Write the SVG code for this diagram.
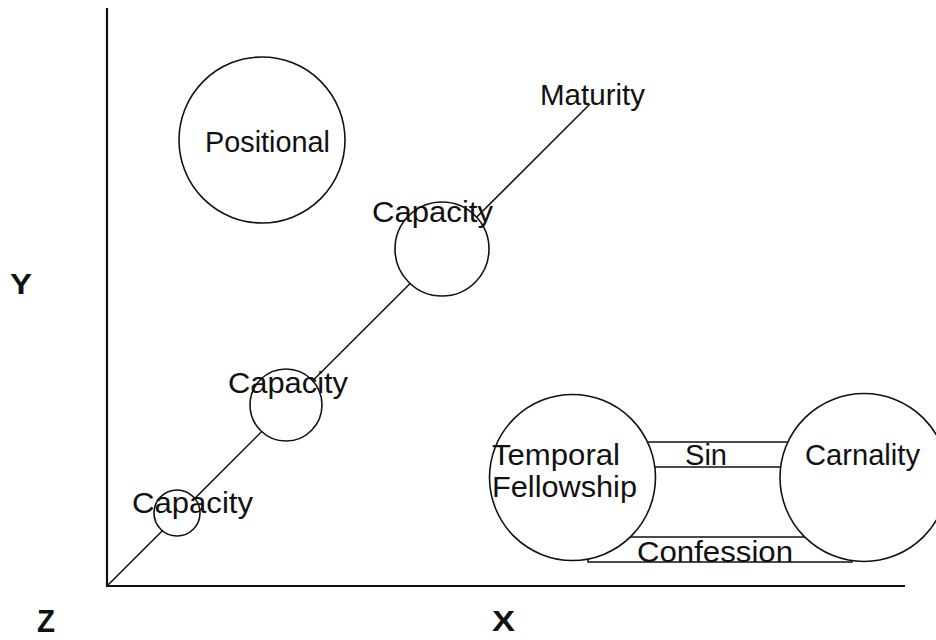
<svg xmlns="http://www.w3.org/2000/svg" width="936" height="640" viewBox="0 0 936 640">
<style>
.ax{stroke:#111;stroke-width:2.2;fill:none}
.ln{stroke:#111;stroke-width:1.5;fill:none}
.nd{stroke:#111;stroke-width:1.6;fill:#fff}
.t{font-family:"Liberation Sans",Arial,sans-serif;font-size:29px;fill:#111}
.b{font-family:"Liberation Sans",Arial,sans-serif;font-weight:bold;fill:#111}
</style>
<rect width="936" height="640" fill="#fff"/>
<g id="axes">
<path class="ax" d="M107 8 V586 H905"/>
<text class="b" x="10" y="294" font-size="30" textLength="22" lengthAdjust="spacingAndGlyphs">Y</text>
<text class="b" x="37" y="632" font-size="31" textLength="18" lengthAdjust="spacingAndGlyphs">Z</text>
<text class="b" x="492" y="631" font-size="30" textLength="23" lengthAdjust="spacingAndGlyphs">X</text>
</g>
<g id="connectors">
<line id="maturity-axis" class="ln" x1="107" y1="586" x2="590" y2="104"/>
<g id="sin">
<rect class="ln" x="630" y="442" width="180" height="25"/>
<text class="t" x="685" y="465" textLength="42" lengthAdjust="spacingAndGlyphs">Sin</text>
</g>
<g id="confession">
<rect class="ln" x="588" y="537" width="264" height="25"/>
</g>
</g>
<g id="positional">
<circle class="nd" cx="262" cy="140" r="83"/>
<text class="t" x="205" y="152" textLength="125" lengthAdjust="spacingAndGlyphs">Positional</text>
</g>
<g id="capacity-small">
<circle class="nd" cx="177" cy="513" r="23"/>
<text class="t" x="132" y="513" textLength="121" lengthAdjust="spacingAndGlyphs">Capacity</text>
</g>
<g id="capacity-medium">
<circle class="nd" cx="286" cy="405" r="36"/>
<text class="t" x="228" y="393" textLength="120" lengthAdjust="spacingAndGlyphs">Capacity</text>
</g>
<g id="capacity-large">
<circle class="nd" cx="442" cy="249" r="47"/>
<text class="t" x="372" y="222" textLength="121" lengthAdjust="spacingAndGlyphs">Capacity</text>
</g>
<g id="maturity">
<text class="t" x="540" y="105" textLength="105" lengthAdjust="spacingAndGlyphs">Maturity</text>
</g>
<g id="temporal-fellowship">
<circle class="nd" cx="572.5" cy="477.5" r="83"/>
<text class="t" x="492" y="465" textLength="128" lengthAdjust="spacingAndGlyphs">Temporal</text>
<text class="t" x="492" y="497" textLength="145" lengthAdjust="spacingAndGlyphs">Fellowship</text>
</g>
<g id="carnality">
<circle class="nd" cx="864" cy="477.5" r="84"/>
<text class="t" x="805" y="465" textLength="115" lengthAdjust="spacingAndGlyphs">Carnality</text>
</g>
<g id="confession-label">
<text class="t" x="637" y="562" textLength="156" lengthAdjust="spacingAndGlyphs">Confession</text>
</g>
</svg>
